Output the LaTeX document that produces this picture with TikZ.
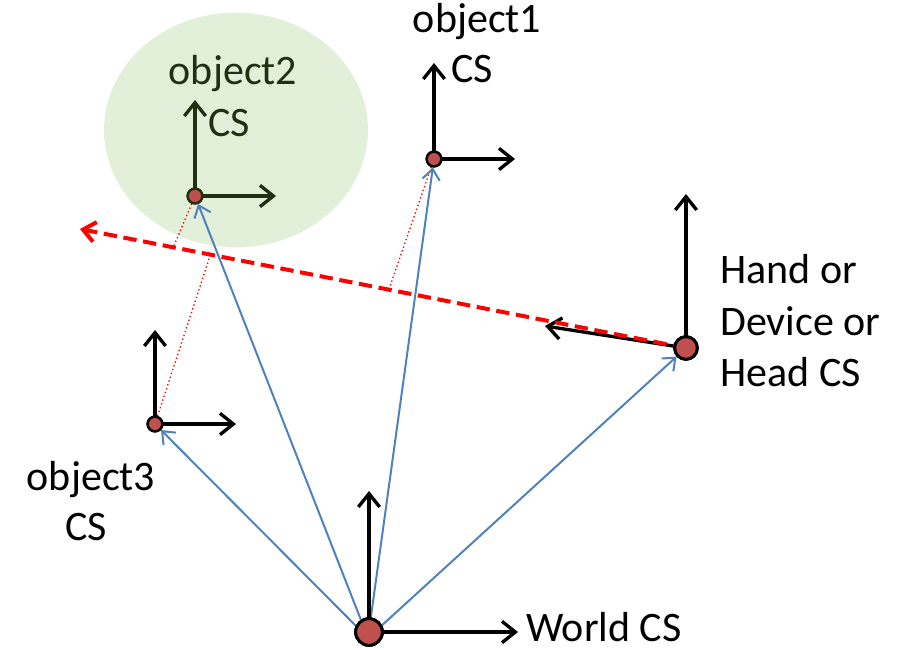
\documentclass[tikz,border=0pt]{standalone}
\usepackage{fontspec}
\setmainfont{Carlito}
\usetikzlibrary{arrows.meta}
\definecolor{dotred}{RGB}{192,80,77}
\definecolor{blueln}{RGB}{79,129,189}
\definecolor{ellgreen}{RGB}{226,239,217}
\definecolor{dkgreen}{RGB}{32,48,16}
\begin{document}
\begin{tikzpicture}[x=0.75pt,y=-0.75pt,
  axis/.style={line width=2.5pt,-{Straight Barb[length=10pt,width=16pt]}},
  vec/.style={blueln,line width=1.5pt,-{Straight Barb[length=8pt,width=13pt]}},
  proj/.style={red,line width=1pt,dotted},
  ray/.style={red,line width=3pt,dash pattern=on 10pt off 5pt,-{Straight Barb[length=9pt,width=15pt]}},
  dotsm/.style={circle,fill=dotred,draw=black,line width=1.8pt,inner sep=0pt,minimum size=11pt},
  dotbig/.style={circle,fill=dotred,draw=black,line width=2.2pt,inner sep=0pt,minimum size=17pt},
  lbl/.style={inner sep=0pt,font=\fontsize{31.5}{38}\selectfont}]
\useasboundingbox (0,0) rectangle (909,649);
% ellipse
\fill[ellgreen] (236,130) ellipse [x radius=99pt, y radius=88pt];
% origins
\coordinate (wc) at (369,632);
\coordinate (o1c) at (434,159);
\coordinate (o2c) at (195,196);
\coordinate (o3c) at (155,424);
\coordinate (hc) at (686,348);
\coordinate (wb) at (368,638);
% axis ends
\coordinate (wx) at (518,632);
\coordinate (wy) at (369,491);
\coordinate (o1x) at (515,159);
\coordinate (o1y) at (434,63);
\coordinate (o2x) at (276,196);
\coordinate (o2y) at (195,100);
\coordinate (o3x) at (236,424);
\coordinate (o3y) at (155,330);
\coordinate (hy) at (686,194);
\coordinate (hz) at (545,326);
\coordinate (rayend) at (80,229);
% projection feet
\coordinate (p1) at (388,292);
\coordinate (p2) at (173,248);
\coordinate (p3) at (210,256);
% dots (nodes)
\node[dotbig,minimum width=20pt,minimum height=17pt] (w) at (wc) {};
\node[dotsm] (o1) at (o1c) {};
\node[dotsm,draw=dkgreen] (o2) at (o2c) {};
\node[dotsm] (o3) at (o3c) {};
\node[dotbig] (h) at (hc) {};
% projections
\draw[proj] (o1) -- (p1);
\draw[proj] (o2) -- (p2);
\draw[proj] (o3) -- (p3);
% blue vectors
\draw[vec] (wb) -- (o3);
\draw[vec] (wb) -- (o2);
\draw[vec] (wb) -- (o1);
\draw[vec] (wb) -- (h);
% axes
\draw[axis] (wc) -- (wx);
\draw[axis] (wc) -- (wy);
\draw[axis] (o1c) -- (o1x);
\draw[axis] (o1c) -- (o1y);
\draw[axis,dkgreen] (o2c) -- (o2x);
\draw[axis,dkgreen] (o2c) -- (o2y);
\draw[axis] (o3c) -- (o3x);
\draw[axis] (o3c) -- (o3y);
\draw[axis] (hc) -- (hy);
\draw[axis] (hc) -- (hz);
% ray
\draw[ray] (hc) -- (rayend);
% redraw dots on top
\node[dotbig,minimum width=20pt,minimum height=17pt] at (wc) {};
\node[dotsm] at (o1c) {};
\node[dotsm,draw=dkgreen] at (o2c) {};
\node[dotsm] at (o3c) {};
\node[dotbig] at (hc) {};
% labels
\node[lbl,anchor=base] (t1a) at (477,33) {object1};
\node[lbl,anchor=base] (t1b) at (472,83) {CS};
\node[lbl,anchor=base,text=dkgreen] (t2a) at (233,85) {object2};
\node[lbl,anchor=base,text=dkgreen] (t2b) at (229,137) {CS};
\node[lbl,anchor=base] (t3a) at (91,490) {object3};
\node[lbl,anchor=base] (t3b) at (86,540) {CS};
\node[lbl,anchor=base west] (th1) at (720,283) {Hand or};
\node[lbl,anchor=base west] (th2) at (720,335) {Device or};
\node[lbl,anchor=base west] (th3) at (720,386) {Head CS};
\node[lbl,anchor=base west] (tw) at (526,641) {World CS};
\end{tikzpicture}
\end{document}
